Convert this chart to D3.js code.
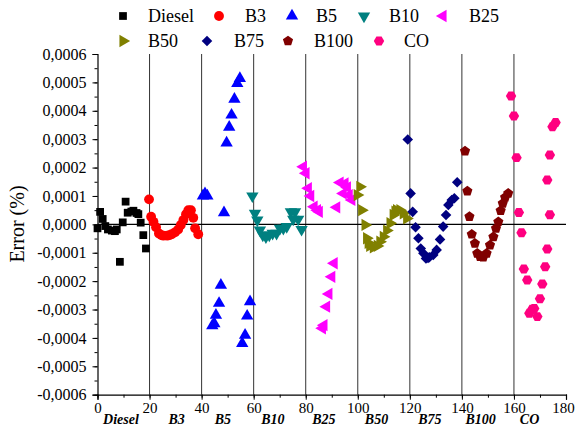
<!DOCTYPE html>
<html>
<head>
<meta charset="utf-8">
<script src="https://cdn.jsdelivr.net/npm/d3@7"></script>
<style>
  html, body { margin: 0; padding: 0; background: #fff; }
  svg { display: block; }
  svg text { font-family: "Liberation Serif", "Times New Roman", serif; fill: #000; }
</style>
</head>
<body>
<svg id="chart" width="576" height="439"></svg>
<script>
// Values are given in units of 1e-4 (%).
const UNIT = 1e-4;

const seriesNames = ["Diesel", "B3", "B5", "B10", "B25", "B50", "B75", "B100", "CO"];
const categoryLabels = ["Diesel", "B3", "B5", "B10", "B25", "B50", "B75", "B100", "CO"];
const xTickValues = [0, 20, 40, 60, 80, 100, 120, 140, 160, 180];
const yTickValues = [-0.0006, -0.0005, -0.0004, -0.0003, -0.0002, -0.0001, 0, 0.0001, 0.0002, 0.0003, 0.0004, 0.0005, 0.0006];
const separators = [20, 40, 60, 80, 100, 120, 140, 160];

const dieselX = [0, 1, 2, 3, 4, 5.5, 6.7, 7.4, 8.6, 9.7, 10.8, 11.6, 13, 13.8, 15, 15.7, 16.6, 17.6, 18.6];
const dieselY = [-0.14, 0.44, 0.19, -0.06, -0.18, -0.22, -0.24, -0.18, -1.32, 0.07, 0.80, 0.41, 0.45, 0.48, 0.40, 0.36, 0.06, -0.38, -0.85];

const b3X = [19.8, 20.6, 21.5, 22.5, 23.6, 24.5, 25.3, 26.8, 27.7, 28.5, 29.8, 31, 32, 33, 34, 34.9, 35.9, 36.8, 37.5, 38.7];
const b3Y = [0.88, 0.27, 0.09, -0.10, -0.32, -0.38, -0.40, -0.40, -0.38, -0.35, -0.28, -0.18, -0.02, 0.15, 0.36, 0.50, 0.50, 0.23, -0.14, -0.35];

const b5X = [40.5, 41.3, 42.2, 44.1, 44.9, 45.5, 46.7, 47.4, 48.6, 49.6, 50.6, 51.5, 52.6, 53.7, 54.7, 55.6, 56.7, 57.5, 58.6];
const b5Y = [1.00, 1.08, 1.00, -3.57, -3.50, -3.20, -2.78, -2.14, 0.41, 2.87, 3.42, 3.85, 4.41, 4.96, 5.14, -4.19, -3.90, -3.23, -2.72];

const b10X = [59.5, 60.5, 61.4, 62.4, 63.5, 64.7, 66, 67.3, 68.8, 70.1, 71.4, 72.7, 74.3, 75.2, 75.9, 77.1, 78.4];
const b10Y = [1.00, 0.39, 0.15, -0.20, -0.38, -0.44, -0.38, -0.32, -0.32, -0.14, -0.14, -0.08, 0.44, 0.18, 0.44, 0.18, -0.18];

const b25X = [79.1, 80.1, 81, 81.9, 83.2, 84.5, 85.2, 86.4, 87, 88, 88.9, 90, 90.9, 91.9, 93.2, 94.4, 95.1, 96, 96.7, 97.7];
const b25Y = [2.03, 1.80, 1.27, 1.00, 0.62, 0.50, 0.44, -3.66, -3.55, -2.90, -2.45, -1.85, -1.37, 0.60, 1.47, 1.09, 1.44, 1.30, 1.03, 0.86];

const b50X = [99.8, 100.8, 101.5, 102.8, 103.4, 104, 104.6, 106, 107.5, 108.5, 109.8, 111.1, 112.4, 113.6, 114.3, 114.9, 116.2, 117.5, 118.8];
const b50Y = [1.03, 1.32, 0.50, -0.02, -0.49, -0.65, -0.76, -0.81, -0.76, -0.61, -0.44, -0.22, 0.04, 0.33, 0.45, 0.50, 0.50, 0.39, 0.21];

const b75X = [119.2, 120.3, 121.1, 122.2, 123.3, 124.2, 125.2, 126.2, 127, 127.5, 129, 130.3, 131.6, 132.8, 133.9, 134.8, 136.1, 137.1, 138.2];
const b75Y = [2.99, 1.09, 0.44, -0.10, -0.49, -0.85, -1.02, -1.20, -1.18, -1.16, -1.08, -0.90, -0.53, -0.08, 0.33, 0.68, 0.86, 0.92, 1.48];

const b100X = [141.2, 142.1, 142.9, 143.8, 145, 145.9, 147, 148.2, 149.5, 150.8, 152.1, 153.1, 154, 154.9, 155.7, 156.6, 157.8];
const b100Y = [2.58, 1.17, 0.27, -0.35, -0.67, -1.02, -1.14, -1.16, -1.02, -0.73, -0.44, -0.14, 0.09, 0.48, 0.74, 0.95, 1.09];

const coX = [158.9, 160, 161, 161.9, 162.9, 163.8, 165.1, 165.9, 167, 167.8, 169, 170, 170.9, 172, 172.8, 173.8, 172.8, 173.8, 174.8, 176];
const coY = [4.52, 3.82, 2.35, 0.42, -0.30, -1.57, -1.96, -3.13, -2.99, -2.96, -3.25, -2.62, -2.10, -1.49, -0.87, 0.34, 1.56, 2.44, 3.44, 3.59];

// ---- marker shapes ----
function polygonSymbol(n, rotation) {
  return {
    draw(ctx, size) {
      const r = Math.sqrt(size / (0.5 * n * Math.sin(2 * Math.PI / n)));
      for (let i = 0; i < n; i++) {
        const a = rotation + i * 2 * Math.PI / n;
        const px = r * Math.cos(a), py = r * Math.sin(a);
        if (i === 0) ctx.moveTo(px, py); else ctx.lineTo(px, py);
      }
      ctx.closePath();
    }
  };
}
const pentagon = polygonSymbol(5, -Math.PI / 2);
const hexagon = polygonSymbol(6, 0);

const styles = {
  "Diesel": { color: "#000000", type: d3.symbolSquare, size: 60, rotate: 0 },
  "B3":     { color: "#FF0000", type: d3.symbolCircle, size: 76, rotate: 0 },
  "B5":     { color: "#0000FF", type: d3.symbolTriangle, size: 66, rotate: 0 },
  "B10":    { color: "#008080", type: d3.symbolTriangle, size: 66, rotate: 180 },
  "B25":    { color: "#FF00FF", type: d3.symbolTriangle, size: 66, rotate: -90 },
  "B50":    { color: "#808000", type: d3.symbolTriangle, size: 66, rotate: 90 },
  "B75":    { color: "#000080", type: d3.symbolSquare, size: 56, rotate: 45 },
  "B100":   { color: "#800000", type: pentagon, size: 68, rotate: 0 },
  "CO":     { color: "#FF0080", type: hexagon, size: 70, rotate: 0 }
};

const seriesData = {
  "Diesel": [dieselX, dieselY],
  "B3": [b3X, b3Y],
  "B5": [b5X, b5Y],
  "B10": [b10X, b10Y],
  "B25": [b25X, b25Y],
  "B50": [b50X, b50Y],
  "B75": [b75X, b75Y],
  "B100": [b100X, b100Y],
  "CO": [coX, coY]
};

// ---- layout ----
const svg = d3.select("#chart");
const x = d3.scaleLinear().domain([0, 180]).range([97.5, 566]);
const y = d3.scaleLinear().domain([-0.0006, 0.0006]).range([394.7, 54]);

const locale = d3.formatLocale({ decimal: ",", thousands: ".", grouping: [3], currency: ["", ""], minus: "-" });
const yFmt = locale.format(".4f");

// separators between fuel groups
svg.append("g").selectAll("line").data(separators).join("line")
  .attr("x1", d => x(d)).attr("x2", d => x(d))
  .attr("y1", y(0.0006)).attr("y2", y(-0.0006))
  .attr("stroke", "#333").attr("stroke-width", 1);

// zero line
svg.append("line")
  .attr("x1", x(0)).attr("x2", x(180))
  .attr("y1", y(0)).attr("y2", y(0))
  .attr("stroke", "#000").attr("stroke-width", 1.2);

// x axis: minor ticks, then major ticks with labels
const xMinor = svg.append("g").attr("transform", `translate(0,${y(-0.0006)})`)
  .call(d3.axisBottom(x).tickValues(d3.range(0, 181, 10)).tickSize(3).tickFormat(""));
xMinor.select(".domain").remove();
const xMajor = svg.append("g").attr("transform", `translate(0,${y(-0.0006)})`)
  .call(d3.axisBottom(x).tickValues(xTickValues).tickSize(5).tickPadding(3).tickFormat(d3.format("d")));
xMajor.select(".domain").attr("stroke-width", 1.2);
xMajor.attr("font-family", null);
xMajor.selectAll("text").attr("font-size", 15);
// keep the last label inside the frame
xMajor.selectAll(".tick").filter(d => d === 180).select("text").attr("dx", -3);

// y axis: minor ticks, then major ticks with labels
const yMinor = svg.append("g").attr("transform", `translate(${x(0)},0)`)
  .call(d3.axisLeft(y).tickValues(d3.range(-12, 13).map(k => k * 0.00005)).tickSize(3).tickFormat(""));
yMinor.select(".domain").remove();
const yMajor = svg.append("g").attr("transform", `translate(${x(0)},0)`)
  .call(d3.axisLeft(y).tickValues(yTickValues).tickSize(5).tickPadding(6).tickFormat(yFmt));
yMajor.select(".domain").attr("stroke-width", 1.2);
yMajor.attr("font-family", null);
yMajor.selectAll("text").attr("font-size", 16);

// fuel names beneath the axis
const categoryX = [9, 30.4, 48.2, 67.4, 87, 107.2, 127.7, 147.2, 166];
svg.append("g").selectAll("text").data(categoryLabels).join("text")
  .attr("x", (d, i) => x(categoryX[i]))
  .attr("y", 424)
  .attr("text-anchor", "middle")
  .attr("font-size", 14)
  .attr("font-weight", "bold")
  .attr("font-style", "italic")
  .text(d => d);

// y title
svg.append("text")
  .attr("transform", `translate(24,${224}) rotate(-90)`)
  .attr("text-anchor", "middle")
  .attr("font-size", 20)
  .text("Error (%)");

// markers
const markers = svg.append("g");
seriesNames.forEach(name => {
  const st = styles[name];
  const [xs, ys] = seriesData[name];
  const pts = xs.map((v, i) => [v, ys[i] * UNIT]);
  markers.append("g").selectAll("path").data(pts).join("path")
    .attr("transform", d => `translate(${x(d[0])},${y(d[1])}) rotate(${st.rotate})`)
    .attr("d", d3.symbol().type(st.type).size(st.size))
    .attr("fill", st.color);
});

// legend
const legendItems = [
  { name: "Diesel", sx: 123, tx: 148, row: 0 },
  { name: "B3", sx: 219, tx: 245, row: 0 },
  { name: "B5", sx: 292, tx: 316, row: 0 },
  { name: "B10", sx: 364, tx: 389, row: 0 },
  { name: "B25", sx: 443, tx: 469, row: 0 },
  { name: "B50", sx: 123, tx: 148, row: 1 },
  { name: "B75", sx: 207, tx: 234, row: 1 },
  { name: "B100", sx: 288, tx: 314, row: 1 },
  { name: "CO", sx: 379, tx: 404, row: 1 }
];
const rowY = [16, 41];
const legend = svg.append("g");
legendItems.forEach(it => {
  const st = styles[it.name];
  legend.append("path")
    .attr("transform", `translate(${it.sx},${rowY[it.row]}) rotate(${st.rotate})`)
    .attr("d", d3.symbol().type(st.type).size(st.size))
    .attr("fill", st.color);
  legend.append("text")
    .attr("x", it.tx).attr("y", rowY[it.row] + 6)
    .attr("font-size", 18)
    .text(it.name);
});
</script>
</body>
</html>
